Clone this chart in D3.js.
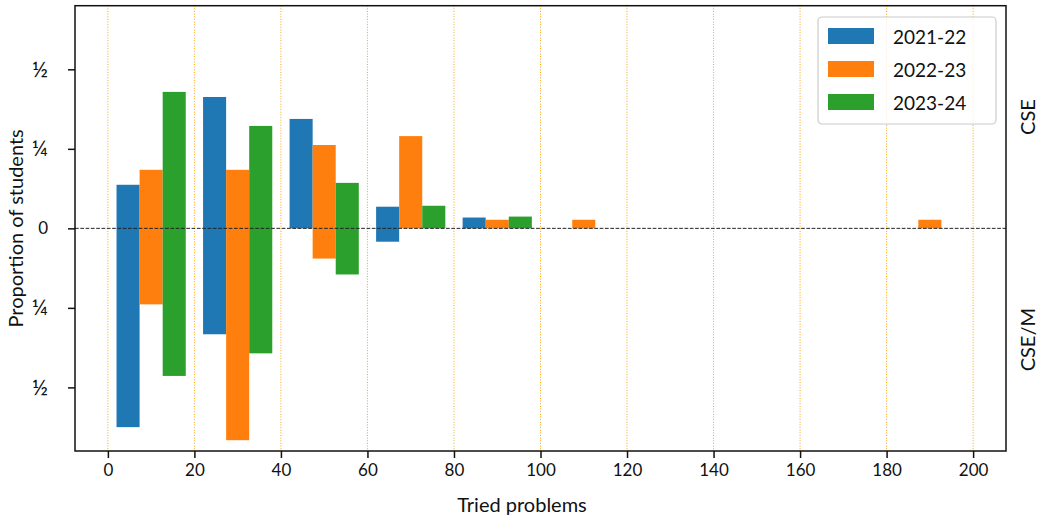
<html>

<head>
    <script src="https://d3js.org/d3.v7.min.js"></script>
    <style>
        body { margin: 0; background: white; }
        text { fill: #111; }
    </style>
</head>

<body>
    <div id="plot"></div>

    <script>
        var width = 1045;
        var height = 522;
        var margin = { top: 5.7, bottom: 71, left: 75, right: 39 };

        // tried-problem bins (left edge, width 20)
        var bins = [0, 20, 40, 60, 80, 100, 120, 140, 160, 180];
        var years = ["2021-22", "2022-23", "2023-24"];
        var colors = ["#1f77b4", "#ff7f0e", "#2ca02c"];

        // CSE (drawn upward)
        var cse_2122 = [0.137, 0.413, 0.344, 0.068, 0.034, 0, 0, 0, 0, 0];
        var cse_2223 = [0.184, 0.184, 0.262, 0.290, 0.027, 0.027, 0, 0, 0, 0.027];
        var cse_2324 = [0.429, 0.322, 0.143, 0.071, 0.037, 0, 0, 0, 0, 0];
        // CSE/M (drawn downward)
        var csem_2122 = [0.625, 0.333, 0, 0.042, 0, 0, 0, 0, 0, 0];
        var csem_2223 = [0.239, 0.666, 0.095, 0, 0, 0, 0, 0, 0, 0];
        var csem_2324 = [0.464, 0.393, 0.145, 0, 0, 0, 0, 0, 0, 0];

        var xTicks = [0, 20, 40, 60, 80, 100, 120, 140, 160, 180, 200];
        var yTicks = [-0.5, -0.25, 0, 0.25, 0.5];
        var yTickLabels = ["½", "¼", "0", "¼", "½"];

        var up = [cse_2122, cse_2223, cse_2324];
        var down = [csem_2122, csem_2223, csem_2324];

        var bars = [];
        years.forEach(function (y, i) {
            bins.forEach(function (b, j) {
                bars.push({ series: i, bin: b, top: up[i][j], bottom: down[i][j] });
            });
        });

        const svg = d3.select("#plot")
            .append("svg")
            .attr("width", width)
            .attr("height", height)
            .style("font-family", "Lato, 'Open Sans', sans-serif");

        var xScale = d3.scaleLinear()
            .domain([-7.6, 207.6])
            .range([margin.left, width - margin.right]);
        var yScale = d3.scaleLinear()
            .domain([-0.7, 0.7])
            .range([height - margin.bottom, margin.top]);

        var barW = 16 / 3;

        // dotted vertical grid
        svg.append("g")
            .selectAll("line")
            .data(xTicks)
            .enter()
            .append("line")
            .attr("x1", d => xScale(d)).attr("x2", d => xScale(d))
            .attr("y1", yScale(0.7)).attr("y2", yScale(-0.7))
            .attr("stroke", "orange")
            .attr("stroke-width", 1)
            .attr("stroke-dasharray", "1,1.65");

        // bars: one rect from -bottom to +top
        svg.append("g")
            .selectAll("rect")
            .data(bars.filter(d => d.top > 0 || d.bottom > 0))
            .enter()
            .append("rect")
            .attr("x", d => xScale(d.bin + 2 + d.series * barW))
            .attr("width", d => xScale(barW) - xScale(0))
            .attr("y", d => yScale(d.top))
            .attr("height", d => yScale(-d.bottom) - yScale(d.top))
            .attr("fill", d => colors[d.series]);

        // zero line
        svg.append("line")
            .attr("x1", xScale(-7.6)).attr("x2", xScale(207.6))
            .attr("y1", yScale(0)).attr("y2", yScale(0))
            .attr("stroke", "#222")
            .attr("stroke-width", 1)
            .attr("stroke-dasharray", "3.7,1.6");

        // axes
        var x_axis = d3.axisBottom(xScale).tickValues(xTicks).tickSize(7).tickPadding(6);
        var y_axis = d3.axisLeft(yScale).tickValues(yTicks).tickSize(7).tickPadding(20)
            .tickFormat((d, i) => yTickLabels[i]);

        svg.append("g")
            .attr("transform", `translate(0,${height - margin.bottom})`)
            .call(x_axis)
            .call(g => g.select(".domain").remove())
            .call(g => g.selectAll("line").attr("stroke", "#111").attr("stroke-width", 1.5))
            .call(g => g.selectAll("text").style("font-size", "17px").style("font-family", "Lato"));

        svg.append("g")
            .attr("transform", `translate(${margin.left},0)`)
            .call(y_axis)
            .call(g => g.select(".domain").remove())
            .call(g => g.selectAll("line").attr("stroke", "#111").attr("stroke-width", 1.5))
            .call(g => g.selectAll("text")
                .style("font-size", (d, i) => yTickLabels[i] === "0" ? "17px" : "22px")
                .style("font-family", "Lato"));

        // frame
        svg.append("rect")
            .attr("x", margin.left).attr("y", margin.top)
            .attr("width", width - margin.left - margin.right)
            .attr("height", height - margin.top - margin.bottom)
            .attr("fill", "none")
            .attr("stroke", "#111")
            .attr("stroke-width", 1.5);

        // axis labels
        svg.append("text")
            .attr("x", 522).attr("y", 512)
            .attr("text-anchor", "middle")
            .style("font-size", "20px")
            .text("Tried problems");

        svg.append("text")
            .attr("transform", `translate(23,${yScale(0)}) rotate(-90)`)
            .attr("text-anchor", "middle")
            .style("font-size", "20px")
            .text("Proportion of students");

        var plotH = height - margin.top - margin.bottom;
        svg.append("text")
            .attr("transform", `translate(1035,${margin.top + plotH * 0.25}) rotate(-90)`)
            .attr("text-anchor", "middle")
            .style("font-size", "20px")
            .text("CSE");
        svg.append("text")
            .attr("transform", `translate(1035,${margin.top + plotH * 0.75}) rotate(-90)`)
            .attr("text-anchor", "middle")
            .style("font-size", "20px")
            .text("CSE/M");

        // legend
        var legend = svg.append("g").attr("transform", "translate(818,17)");
        legend.append("rect")
            .attr("width", 178).attr("height", 107)
            .attr("rx", 4)
            .attr("fill", "white").attr("fill-opacity", 0.8)
            .attr("stroke", "#ccc").attr("stroke-width", 1.2);
        var items = legend.selectAll("g.item")
            .data(years)
            .enter()
            .append("g")
            .attr("class", "item")
            .attr("transform", (d, i) => `translate(10,${11 + i * 33})`);
        items.append("rect")
            .attr("width", 46).attr("height", 16)
            .attr("fill", (d, i) => colors[i]);
        items.append("text")
            .attr("x", 65).attr("y", 16)
            .style("font-size", "19px")
            .text(d => d);
    </script>
</body>

</html>
